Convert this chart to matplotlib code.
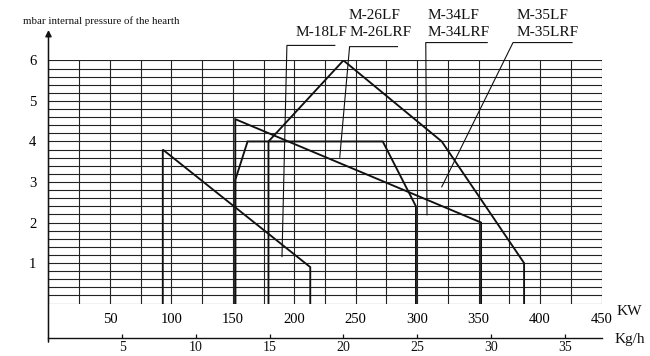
import numpy as np
import matplotlib
matplotlib.use("Agg")
import matplotlib.pyplot as plt

plt.rcParams['font.family'] = ['Liberation Serif', 'DejaVu Serif']

# ---- data (KW, mbar) ----
m18_kw = [93, 93, 213, 213]
m18_mbar = [0, 3.8, 0.9, 0]

m26_kw = [152, 152, 352, 352]
m26_mbar = [0, 4.55, 2.0, 0]

m34_kw = [152, 152, 162, 272, 299, 299]
m34_mbar = [0, 3.05, 4.0, 4.0, 2.4, 0]

m35_kw = [179, 179, 240, 320, 387, 387]
m35_mbar = [0, 4.0, 6.0, 4.0, 1.0, 0]

kw_ticks = [50, 100, 150, 200, 250, 300, 350, 400, 450]
kgh_ticks = [5, 10, 15, 20, 25, 30, 35]
mbar_ticks = [1, 2, 3, 4, 5, 6]
kw_per_kgh = 12.0

# leader lines (KW, mbar) and labels
lead18_kw = [233, 194, 190]
lead18_mbar = [6.37, 6.37, 1.16]
lead26_kw = [284, 245, 237]
lead26_mbar = [6.34, 6.34, 3.61]
lead34_kw = [357, 307, 308]
lead34_mbar = [6.44, 6.44, 2.19]
lead35_kw = [426, 378, 320]
lead35_mbar = [6.44, 6.44, 2.88]

W, H = 650, 356
fig = plt.figure(figsize=(W / 100, H / 100), dpi=100)
# axes: KW 0..450 -> px 48..602 ; mbar 0..6 -> px 304..60
ax = fig.add_axes([48 / W, (H - 304) / H, 554 / W, 244 / H])
ax.set_xlim(-0.4, 450.4)
ax.set_ylim(-0.01, 6.01)
for s in ax.spines.values():
    s.set_visible(False)

gridc = '#222222'
ax.set_xticks(kw_ticks)
ax.set_xticklabels([str(v) for v in kw_ticks])
ax.set_xticks(np.arange(0, 451, 25), minor=True)
ax.set_yticks(mbar_ticks)
ax.set_yticklabels([str(v) for v in mbar_ticks])
ax.set_yticks(np.arange(0, 6.01, 0.2), minor=True)
ax.grid(which='both', color=gridc, lw=0.8)
ax.set_axisbelow(True)
ax.tick_params(axis='both', which='both', length=0, labelsize=10.5, colors='black')
ax.tick_params(axis='x', pad=6.5)
ax.tick_params(axis='y', pad=8.5)

# curves
for xs, ys in [(m18_kw, m18_mbar), (m26_kw, m26_mbar), (m34_kw, m34_mbar), (m35_kw, m35_mbar)]:
    ax.plot(xs, ys, color='#111111', lw=1.35, solid_joinstyle='miter', zorder=3)

# leader lines
for xs, ys in [(lead18_kw, lead18_mbar), (lead26_kw, lead26_mbar),
               (lead34_kw, lead34_mbar), (lead35_kw, lead35_mbar)]:
    ax.plot(xs, ys, color='#111111', lw=0.8, clip_on=False, zorder=3)

lab = dict(fontsize=11, color='#111111', clip_on=False)
ax.text(222, 6.69, 'M-18LF', ha='center', va='center', **lab)
ax.text(244.5, 7.1, 'M-26LF', ha='left', va='center', **lab)
ax.text(245, 6.69, 'M-26LRF', ha='left', va='center', **lab)
ax.text(308.5, 7.1, 'M-34LF', ha='left', va='center', **lab)
ax.text(308.5, 6.69, 'M-34LRF', ha='left', va='center', **lab)
ax.text(381, 7.1, 'M-35LF', ha='left', va='center', **lab)
ax.text(381, 6.69, 'M-35LRF', ha='left', va='center', **lab)

# y axis with arrow
ax.annotate('', xy=(0, 6.75), xytext=(0, -0.95), xycoords='data',
            arrowprops=dict(arrowstyle='-|>', lw=1.1, color='#111111',
                            mutation_scale=9, shrinkA=0, shrinkB=0),
            annotation_clip=False)
ax.text(-21, 6.98, 'mbar internal pressure of the hearth', ha='left', va='center',
        fontsize=7.8, color='#111111', clip_on=False)

# units
ax.text(462, -0.2, 'KW', ha='left', va='center', fontsize=11, color='#111111', clip_on=False)
ax.text(461, -0.88, 'Kg/h', ha='left', va='center', fontsize=11, color='#111111', clip_on=False)

# Kg/h secondary axis
sec = ax.secondary_xaxis(-0.139, functions=(lambda x: x / kw_per_kgh, lambda x: x * kw_per_kgh))
sec.set_xticks(kgh_ticks)
sec.set_xticklabels([str(v) for v in kgh_ticks])
sec.tick_params(direction='in', length=3, width=0.9, labelsize=10, pad=2.5, colors='#111111')
for s in sec.spines.values():
    s.set_linewidth(1.0)
    s.set_color('#111111')

fig.savefig('out.png', dpi=100)
